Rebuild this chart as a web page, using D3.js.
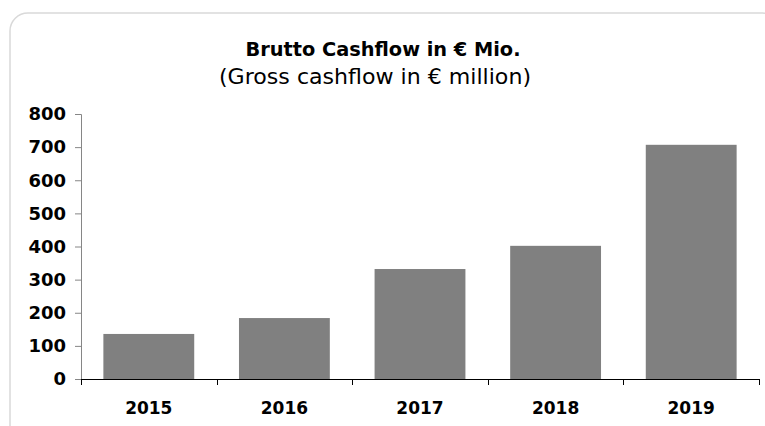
<!DOCTYPE html>
<html>
<head>
<meta charset="utf-8">
<script src="https://cdn.jsdelivr.net/npm/d3@7"></script>
<style>
  body { margin: 0; background: #fff; }
  svg text { font-family: "DejaVu Sans", Verdana, sans-serif; fill: #000; }
</style>
</head>
<body>
<svg class="chart" width="765" height="426"></svg>
<script>
var width = 765;
var height = 426;
var margin = {top: 114, right: 6, bottom: 47, left: 81};
var w = width - margin.left - margin.right;
var h = height - margin.top - margin.bottom;

// data
var years = ["2015", "2016", "2017", "2018", "2019"];
var cashflow = [136, 184, 332, 402, 707];
var yTicks = [0, 100, 200, 300, 400, 500, 600, 700, 800];

var svg = d3.select(".chart");

// rounded frame, runs off the right and bottom edge
svg.append("rect")
    .attr("x", 10)
    .attr("y", 13)
    .attr("width", 770)
    .attr("height", 430)
    .attr("rx", 18)
    .style("fill", "none")
    .style("stroke", "#d9d9d9")
    .style("stroke-width", 1.5);

svg.append("text")
    .attr("x", 383)
    .attr("y", 56)
    .style("text-anchor", "middle")
    .style("font-weight", "bold")
    .style("font-size", "19px")
    .attr("textLength", 275)
    .attr("lengthAdjust", "spacingAndGlyphs")
    .text("Brutto Cashflow in € Mio.");

svg.append("text")
    .attr("x", 375)
    .attr("y", 84)
    .style("text-anchor", "middle")
    .style("font-size", "21px")
    .attr("textLength", 312)
    .attr("lengthAdjust", "spacingAndGlyphs")
    .text("(Gross cashflow in € million)");

var g = svg.append("g")
    .attr("transform", "translate(" + margin.left + "," + margin.top + ")");

var x = d3.scaleBand()
    .domain(years)
    .range([0, w])
    .paddingInner(0.33)
    .paddingOuter(0.165);

var y = d3.scaleLinear()
    .domain([0, 800])
    .range([h, 0]);

// bars
g.selectAll(".bar")
    .data(years)
    .enter().append("rect")
    .attr("class", "bar")
    .attr("x", function(d) { return x(d); })
    .attr("y", function(d, i) { return y(cashflow[i]); })
    .attr("width", x.bandwidth())
    .attr("height", function(d, i) { return h - y(cashflow[i]); })
    .style("fill", "#808080");

// y axis (gray)
var yAxis = d3.axisLeft(y)
    .tickValues(yTicks)
    .tickSize(6)
    .tickPadding(9);

var ya = g.append("g").call(yAxis);
ya.select(".domain").attr("stroke", "#868686").attr("d", "M-6,0.5H0.5V" + h);
ya.selectAll(".tick line").attr("stroke", "#868686");
ya.selectAll(".tick text")
    .style("font-size", "18px")
    .style("font-weight", "bold");

// x axis (black) with ticks at category boundaries
var xa = g.append("g").attr("transform", "translate(0," + h + ")");
xa.append("line")
    .attr("x1", 0).attr("x2", w)
    .attr("y1", 0.5).attr("y2", 0.5)
    .attr("stroke", "#000");
xa.selectAll(".xtick")
    .data(d3.range(years.length + 1))
    .enter().append("line")
    .attr("x1", function(i) { return Math.round(i * w / years.length) + 0.5; })
    .attr("x2", function(i) { return Math.round(i * w / years.length) + 0.5; })
    .attr("y1", 0)
    .attr("y2", 6)
    .attr("stroke", "#000");
xa.selectAll(".xlabel")
    .data(years)
    .enter().append("text")
    .attr("x", function(d) { return x(d) + x.bandwidth() / 2; })
    .attr("y", 35)
    .style("text-anchor", "middle")
    .style("font-size", "17px")
    .style("font-weight", "bold")
    .text(function(d) { return d; });
</script>
</body>
</html>
